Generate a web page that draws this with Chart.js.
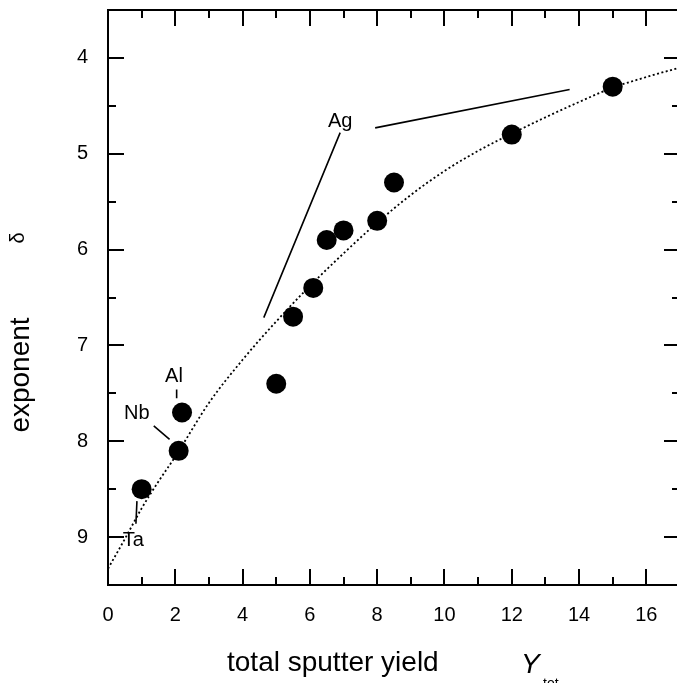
<!DOCTYPE html>
<html>
<head>
<meta charset="utf-8">
<script src="https://cdn.jsdelivr.net/npm/chart.js@4.4.1/dist/chart.umd.min.js"></script>
<style>
  html, body { margin: 0; padding: 0; background: #fff; overflow: hidden; }
  #wrap { width: 690px; height: 683px; }
</style>
</head>
<body>
<div id="wrap"><canvas id="c" width="690" height="683"></canvas></div>
<script>
// Measured exponent delta versus total sputter yield
const yieldTot      = [1.0, 2.1, 2.2, 5.0, 5.5, 6.1, 6.5, 7.0, 8.0, 8.5, 12.0, 15.0];
const exponentDelta = [8.5, 8.1, 7.7, 7.4, 6.7, 6.4, 5.9, 5.8, 5.7, 5.3, 4.8, 4.3];

// Fitted trend curve (dotted)
const fitYield = [0, 0.5, 1, 1.5, 2, 3, 4, 5, 6, 7, 8, 9, 10, 11, 12, 13, 14, 15, 16, 17];
const fitDelta = [9.33, 9.02, 8.7, 8.42, 8.16, 7.6, 7.15, 6.75, 6.38, 6.04, 5.72, 5.43, 5.18, 4.97, 4.79, 4.62, 4.46, 4.31, 4.2, 4.1];

// Axis ticks
const xMajorTicks = [0, 2, 4, 6, 8, 10, 12, 14, 16];
const xMinorTicks = [1, 3, 5, 7, 9, 11, 13, 15];
const yMajorTicks = [4, 5, 6, 7, 8, 9];
const yMinorTicks = [4.5, 5.5, 6.5, 7.5, 8.5];

// Element labels (text, x, baseline y) and their pointer segments [x1, y1, x2, y2]
const elementNames  = ['Ag', 'Al', 'Nb', 'Ta'];
const elementLabelX = [6.9, 1.96, 0.855, 0.75];
const elementLabelY = [4.72, 7.385, 7.77, 9.09];
const pointerLines = [
  [4.63, 6.71, 6.9, 4.78],
  [7.94, 4.73, 13.72, 4.33],
  [2.04, 7.46, 2.04, 7.55],
  [1.36, 7.84, 1.83, 7.98],
  [0.86, 8.625, 0.83, 8.86]
];

const FONT = '"Liberation Sans", Arial, sans-serif';

const framePlugin = {
  id: 'frame',
  afterDatasetsDraw(chart) {
    const { ctx, chartArea: a, scales: { x, y } } = chart;
    ctx.save();
    ctx.strokeStyle = '#000';
    ctx.lineWidth = 2;
    ctx.strokeRect(a.left, a.top, a.right - a.left, a.bottom - a.top);
    ctx.beginPath();
    const major = 16, minor = 8;
    xMajorTicks.concat(xMinorTicks).forEach(v => {
      const len = xMajorTicks.includes(v) ? major : minor;
      const px = Math.round(x.getPixelForValue(v));
      ctx.moveTo(px, a.bottom); ctx.lineTo(px, a.bottom - len);
      ctx.moveTo(px, a.top); ctx.lineTo(px, a.top + len);
    });
    yMajorTicks.concat(yMinorTicks).forEach(v => {
      const len = yMajorTicks.includes(v) ? major : minor;
      const py = Math.round(y.getPixelForValue(v));
      ctx.moveTo(a.left, py); ctx.lineTo(a.left + len, py);
      ctx.moveTo(a.right, py); ctx.lineTo(a.right - len, py);
    });
    ctx.stroke();

    // pointer lines
    ctx.lineWidth = 1.6;
    ctx.beginPath();
    pointerLines.forEach(([x1, y1, x2, y2]) => {
      ctx.moveTo(x.getPixelForValue(x1), y.getPixelForValue(y1));
      ctx.lineTo(x.getPixelForValue(x2), y.getPixelForValue(y2));
    });
    ctx.stroke();

    // element labels
    ctx.fillStyle = '#000';
    ctx.font = '20px ' + FONT;
    ctx.textAlign = 'center';
    ctx.textBaseline = 'alphabetic';
    elementNames.forEach((t, i) => {
      ctx.fillText(t, x.getPixelForValue(elementLabelX[i]), y.getPixelForValue(elementLabelY[i]));
    });

    // axis titles
    ctx.textAlign = 'left';
    ctx.font = '28px ' + FONT;
    ctx.fillText('total sputter yield', 227, 671);
    ctx.font = 'italic 28px ' + FONT;
    ctx.fillText('Y', 521, 673);
    ctx.font = '14px ' + FONT;
    ctx.fillText('tot', 543, 688);

    ctx.translate(29, 0);
    ctx.rotate(-Math.PI / 2);
    ctx.font = '28px ' + FONT;
    ctx.textAlign = 'center';
    ctx.fillText('exponent', -375, 0);
    ctx.font = '20px ' + FONT;
    ctx.fillText('δ', -238, -5);
    ctx.restore();
  }
};

new Chart(document.getElementById('c'), {
  type: 'scatter',
  data: {
    datasets: [
      {
        data: yieldTot.map((v, i) => ({ x: v, y: exponentDelta[i] })),
        pointRadius: 10,
        pointHoverRadius: 10,
        backgroundColor: '#000',
        borderColor: '#000',
        borderWidth: 0,
        order: 0
      },
      {
        type: 'line',
        data: fitYield.map((v, i) => ({ x: v, y: fitDelta[i] })),
        showLine: true,
        pointRadius: 0,
        borderColor: '#000',
        borderWidth: 1.8,
        borderDash: [2, 2.5],
        cubicInterpolationMode: 'monotone',
        fill: false,
        order: 1
      }
    ]
  },
  options: {
    responsive: false,
    devicePixelRatio: 1,
    animation: false,
    events: [],
    layout: { padding: { top: 10, right: 6, left: 0, bottom: 0 } },
    plugins: { legend: { display: false }, tooltip: { enabled: false } },
    scales: {
      x: {
        type: 'linear',
        min: 0, max: 17,
        afterBuildTicks: s => { s.ticks = xMajorTicks.map(v => ({ value: v })); },
        afterFit: s => { s.height = 98; s.paddingLeft = 0; s.paddingRight = 0; },
        grid: { display: false, drawTicks: false },
        border: { display: false },
        ticks: { color: '#000', font: { size: 20, family: FONT }, padding: 18, maxRotation: 0 }
      },
      y: {
        type: 'linear',
        reverse: true,
        min: 3.5, max: 9.5,
        afterBuildTicks: s => { s.ticks = yMajorTicks.map(v => ({ value: v })); },
        afterFit: s => { s.width = 108; s.paddingTop = 0; s.paddingBottom = 0; },
        grid: { display: false, drawTicks: false },
        border: { display: false },
        ticks: { color: '#000', font: { size: 20, family: FONT }, padding: 20 }
      }
    }
  },
  plugins: [framePlugin]
});
</script>
</body>
</html>
